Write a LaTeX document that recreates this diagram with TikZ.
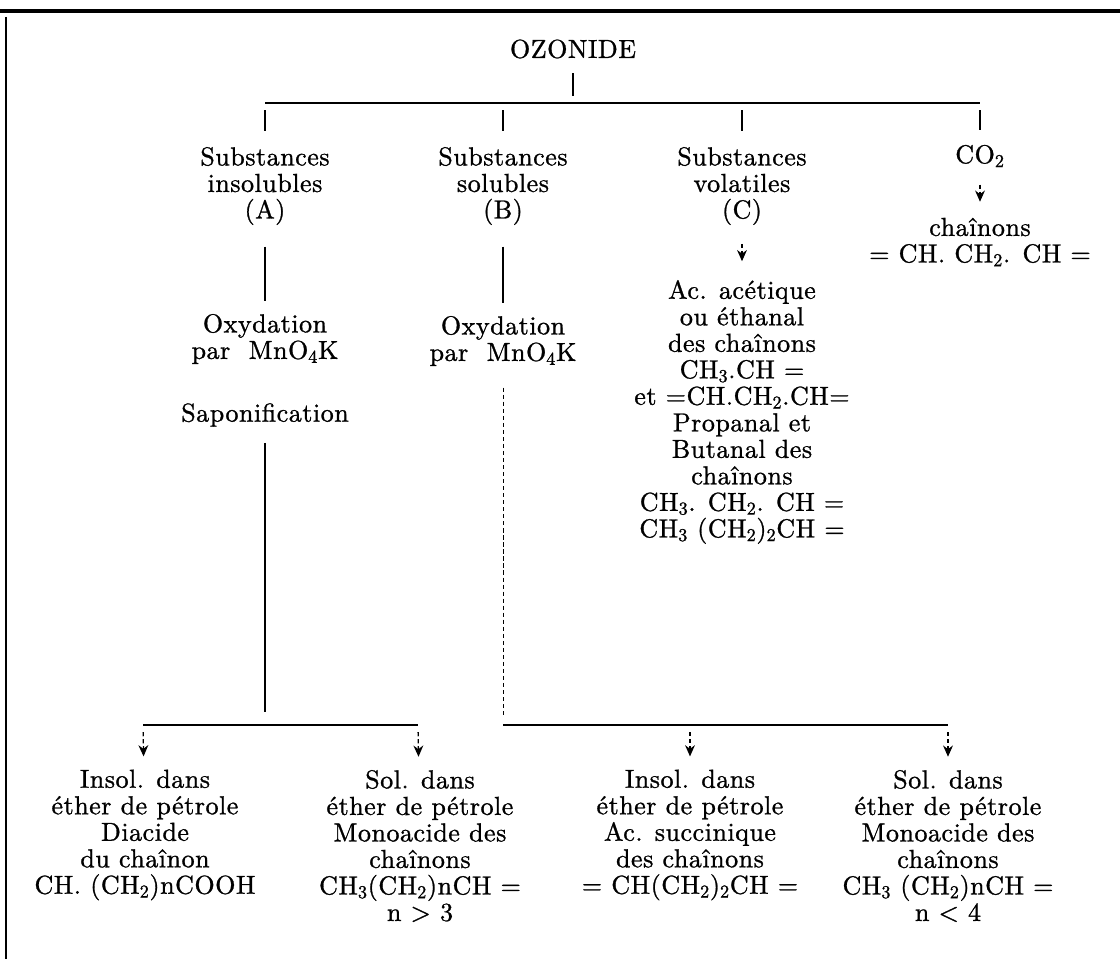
\documentclass[tikz,border=0pt]{standalone}
\usepackage{amsmath}
\usepackage{fontspec}
\usepackage{tikz}
\usetikzlibrary{arrows.meta}
\newfontfamily\oldfont{lmroman10-regular.otf}[LetterSpace=2,FakeBold=1]
\newcommand{\ix}[1]{\textsubscript{#1}}

\begin{document}
\begin{tikzpicture}[x=0.025cm,y=-0.025cm,line width=0.9pt,
    txt/.style={align=center,inner sep=0pt,font=\oldfont\fontsize{18.5}{18.85}\selectfont},
    arr/.style={densely dashed,-{Stealth[length=8pt,width=7pt]}}]
                \useasboundingbox (0,0) rectangle (1120,959);
                % cadre
                \draw[line width=2.2pt] (0,11) -- (1120,11);
                \draw[line width=2pt] (6,17) -- (6,959);
                % ozonide et premier partage
                \node[txt] (ozonide) at (573,49) {OZONIDE};
                \coordinate (busM) at (573,103);
                \coordinate (busL) at (265,103);
                \coordinate (tB) at (503,103);
                \coordinate (tC) at (742,103);
                \coordinate (busR) at (980,103);
                \draw[shorten <=10pt,shorten >=5pt] (ozonide) -- (busM);
                \draw (busL) -- (busR);
                \node[txt] (subA) at (265,186) {Substances\\insolubles\\(A)};
                \node[txt] (subB) at (503,186) {Substances\\solubles\\(B)};
                \node[txt] (subC) at (742,186) {Substances\\volatiles\\(C)};
                \node[txt] (co2) at (980,156) {CO\ix{2}};
                \draw[shorten <=5pt,shorten >=11pt] (busL) -- (subA);
                \draw[shorten <=5pt,shorten >=11pt] (tB) -- (subB);
                \draw[shorten <=5pt,shorten >=11pt] (tC) -- (subC);
                \draw[shorten <=5pt,shorten >=10pt] (busR) -- (co2);
                % CO2
                \node[txt] (chainCO) at (980,242) {chaînons\\= CH. CH\ix{2}. CH =};
                \draw[arr,shorten <=12pt,shorten >=11pt] (co2) -- (chainCO);
                % volatiles
                \node[txt] (volC) at (742,412) {Ac. acétique\\ou éthanal\\des chaînons\\CH\ix{3}.CH =\\et =CH.CH\ix{2}.CH=\\Propanal et\\Butanal des\\chaînons\\CH\ix{3}. CH\ix{2}. CH =\\CH\ix{3} (CH\ix{2})\ix{2}CH =};
                \draw[arr,shorten <=13pt,shorten >=13pt] (subC) -- (volC);
                % insolubles
                \node[txt] (oxA) at (265,339) {Oxydation\\par\ \ MnO\ix{4}K};
                \node[txt] (sapA) at (265,415) {Saponification};
                \draw[shorten <=15pt,shorten >=9pt] (subA) -- (oxA);
                \coordinate (jA) at (265,725);
                \coordinate (lA) at (143,725);
                \coordinate (rA) at (418,725);
                \draw[shorten <=11pt,shorten >=9pt] (sapA) -- (jA);
                \draw (lA) -- (rA);
                \node[txt] (insA) at (145,835) {Insol. dans\\éther de pétrole\\Diacide\\du chaînon\\CH. (CH\ix{2})nCOOH};
                \node[txt] (solA) at (420,846) {Sol. dans\\éther de pétrole\\Monoacide des\\chaînons\\CH\ix{3}(CH\ix{2})nCH =\\n > 3};
                \draw[arr,shorten <=5pt,shorten >=9pt] (lA) -- (insA);
                \draw[arr,shorten <=5pt,shorten >=9pt] (rA) -- (solA);
                % solubles
                \node[txt] (oxB) at (503,341) {Oxydation\\par\ \ MnO\ix{4}K};
                \draw[shorten <=15pt,shorten >=9pt] (subB) -- (oxB);
                \coordinate (jB) at (503,725);
                \coordinate (mB) at (690,725);
                \coordinate (rB) at (948,725);
                \draw[densely dashed,line width=0.6pt,shorten <=15pt,shorten >=7pt] (oxB) -- (jB);
                \draw (jB) -- (rB);
                \node[txt] (insB) at (690,835) {Insol. dans\\éther de pétrole\\Ac. succinique\\des chaînons\\= CH(CH\ix{2})\ix{2}CH =};
                \node[txt] (solB) at (948,846) {Sol. dans\\éther de pétrole\\Monoacide des\\chaînons\\CH\ix{3} (CH\ix{2})nCH =\\n < 4};
                \draw[arr,shorten <=5pt,shorten >=9pt] (mB) -- (insB);
                \draw[arr,shorten <=5pt,shorten >=9pt] (rB) -- (solB);
            \end{tikzpicture}
\end{document}
